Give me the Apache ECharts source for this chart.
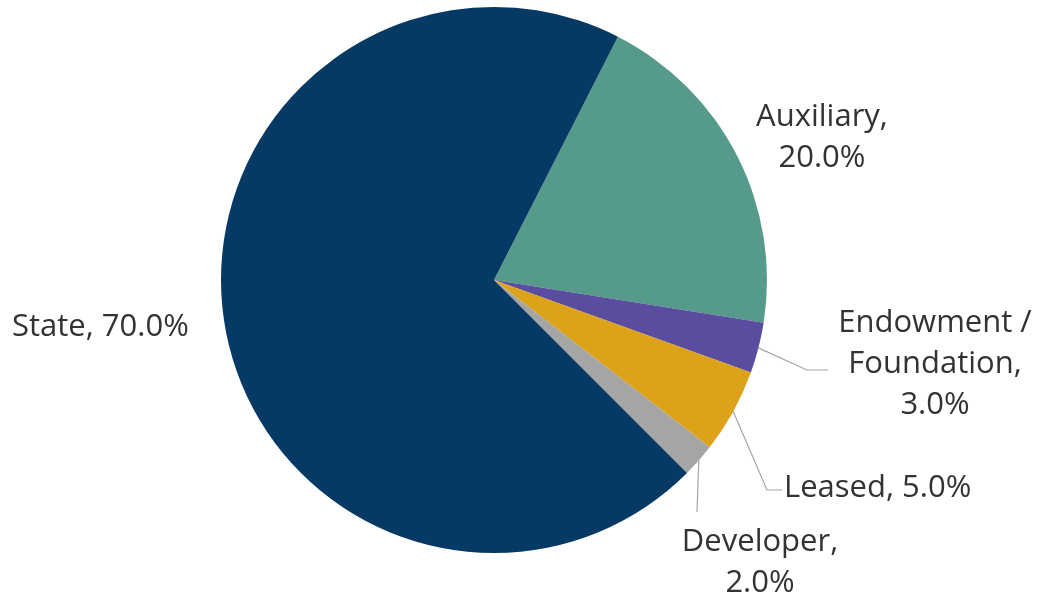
<!DOCTYPE html>
<html>
<head>
<meta charset="utf-8">
<script src="https://cdn.jsdelivr.net/npm/echarts@6/dist/echarts.min.js"></script>
<style>
  html, body { margin: 0; padding: 0; background: #fff; }
  #main { width: 1043px; height: 597px; }
</style>
</head>
<body>
<div id="main"></div>
<script>
// pie data, clockwise from the top-right
var categories = ['Auxiliary', 'Endowment / Foundation', 'Leased', 'Developer', 'State'];
var values = [20.0, 3.0, 5.0, 2.0, 70.0];
var labelTexts = ['Auxiliary,\n20.0%', 'Endowment /\nFoundation,\n3.0%', 'Leased, 5.0%', 'Developer,\n2.0%', 'State, 70.0%'];
var colors = ['#559a8b', '#5a4c9e', '#dca21a', '#a5a5a5', '#063a65'];

// where each label sits (center x, center y), and leader line bends
var labelPos = [
  { x: 822, y: 138, align: 'center' },
  { x: 935, y: 364, align: 'center', bend: [[807, 370], [828, 370]] },
  { x: 784, y: 488, align: 'left', bend: [[767, 490], [782, 490]] },
  { x: 760, y: 563, align: 'center', bend: [[697, 512]] },
  { x: 12, y: 327, align: 'left' }
];

var chart = echarts.init(document.getElementById('main'));

var pieData = categories.map(function (name, i) {
  return {
    name: name,
    value: values[i],
    itemStyle: { color: colors[i] },
    labelLine: { show: !!labelPos[i].bend }
  };
});

chart.setOption({
  animation: false,
  series: [{
    type: 'pie',
    center: [494, 280],
    radius: 273,
    startAngle: 63,
    clockwise: true,
    data: pieData,
    label: {
      position: 'outside',
      formatter: function (p) { return labelTexts[p.dataIndex]; },
      fontFamily: 'Open Sans',
      fontSize: 31,
      lineHeight: 41,
      color: '#333333',
      align: 'center',
      overflow: 'none'
    },
    labelLine: {
      lineStyle: { color: '#a6a6a6', width: 1.2 },
      length: 20,
      length2: 20
    },
    labelLayout: function (params) {
      var lp = labelPos[params.dataIndex];
      var res = {
        x: lp.x,
        y: lp.y,
        align: lp.align,
        verticalAlign: 'middle'
      };
      if (lp.bend && params.labelLinePoints) {
        res.labelLinePoints = [params.labelLinePoints[0]].concat(lp.bend);
      }
      return res;
    }
  }]
});
</script>
</body>
</html>
